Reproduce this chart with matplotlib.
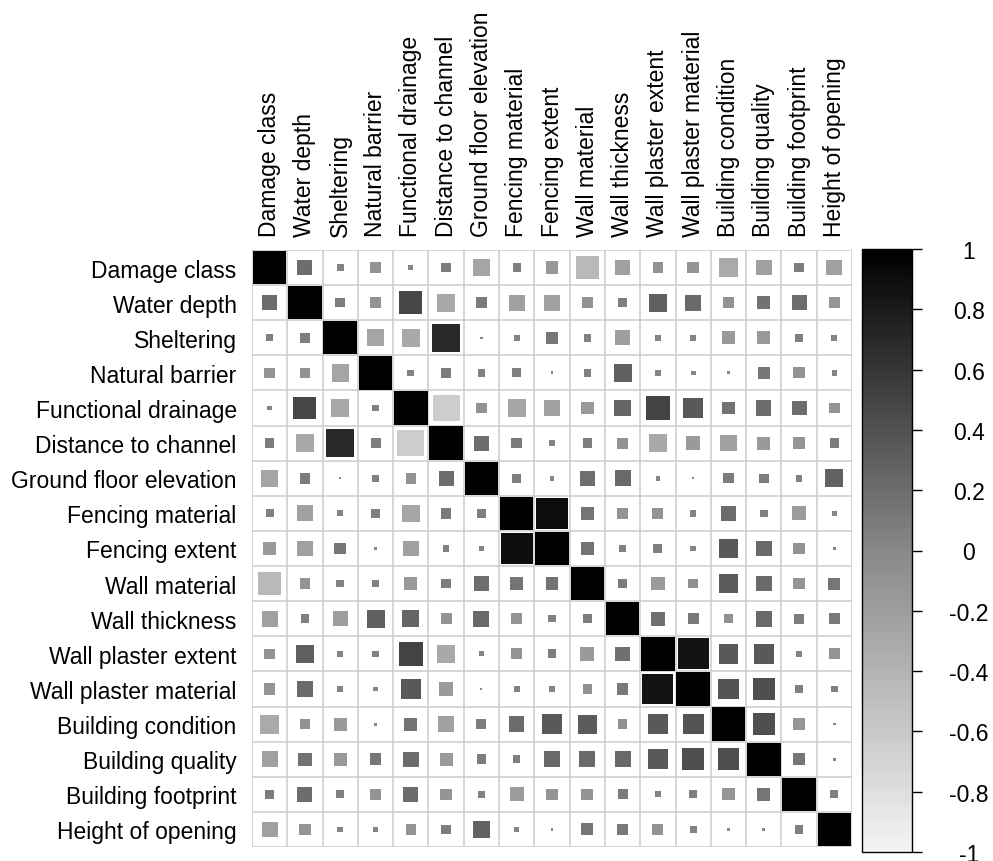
import numpy as np
import matplotlib
matplotlib.use("Agg")
import matplotlib.pyplot as plt
from matplotlib.colors import LinearSegmentedColormap, Normalize
from matplotlib.patches import Rectangle
from matplotlib.cm import ScalarMappable

plt.rcParams['font.family'] = ['Liberation Sans', 'DejaVu Sans']

labels = ["Damage class", "Water depth", "Sheltering", "Natural barrier",
          "Functional drainage", "Distance to channel", "Ground floor elevation",
          "Fencing material", "Fencing extent", "Wall material", "Wall thickness",
          "Wall plaster extent", "Wall plaster material", "Building condition",
          "Building quality", "Building footprint", "Height of opening"]

# upper triangle (values right of the diagonal), row by row
upper = [
    [0.2, 0.04, -0.1, 0.02, 0.08, -0.27, 0.06, -0.15, -0.45, -0.22, -0.1, -0.12, -0.32, -0.22, 0.08, -0.22],
    [0.08, -0.1, 0.47, -0.3, 0.1, -0.23, -0.22, -0.1, 0.07, 0.3, 0.22, -0.1, 0.16, 0.2, -0.12],
    [-0.27, -0.3, 0.7, 0.005, 0.03, 0.12, 0.05, -0.2, 0.03, 0.03, -0.15, -0.15, 0.06, 0.03],
    [0.04, 0.09, 0.05, 0.07, 0.008, 0.05, 0.29, 0.035, 0.02, 0.008, 0.12, -0.11, 0.025],
    [-0.64, -0.1, -0.28, -0.23, -0.15, 0.25, 0.5, 0.35, 0.15, 0.21, 0.2, -0.1],
    [0.2, 0.1, 0.04, 0.08, -0.11, -0.3, -0.17, -0.23, -0.15, -0.12, 0.08],
    [0.07, 0.02, 0.19, 0.23, 0.02, 0.004, 0.09, 0.08, 0.04, 0.28],
    [0.9, 0.14, -0.11, -0.11, 0.035, 0.21, 0.05, -0.18, 0.02],
    [0.15, 0.045, 0.07, 0.03, 0.35, 0.23, -0.11, 0.008],
    [0.08, -0.17, -0.08, 0.33, 0.22, -0.12, 0.13],
    [0.18, 0.11, -0.08, 0.23, 0.09, 0.11],
    [0.86, 0.35, 0.35, 0.03, -0.11],
    [0.38, 0.42, 0.06, 0.04],
    [0.42, -0.13, 0.005],
    [0.14, 0.008],
    [0.06],
]

n = len(labels)
corr = np.eye(n)
for i, row in enumerate(upper):
    for k, v in enumerate(row):
        corr[i, i + 1 + k] = v
        corr[i + 1 + k, i] = v

cmap = LinearSegmentedColormap.from_list("grey", ["#f4f4f4", "#888888", "#000000"])
norm = Normalize(-1, 1)

fig = plt.figure(figsize=(9.93, 8.62), dpi=100)
ax = fig.add_axes([252 / 993, 1 - 848 / 862, 600 / 993, 597 / 862])

for i in range(n):
    for j in range(n):
        r = corr[i, j]
        s = 0.95 * np.sqrt(abs(r))
        ax.add_patch(Rectangle((j - s / 2, i - s / 2), s, s,
                               facecolor=cmap(norm(r)), edgecolor='none', zorder=3))

for k in np.arange(-0.5, n, 1.0):
    ax.axhline(k, color='#cccccc', lw=1.1, zorder=1)
    ax.axvline(k, color='#cccccc', lw=1.1, zorder=1)

ax.set_xlim(-0.5, n - 0.5)
ax.set_ylim(n - 0.5, -0.5)
for sp in ax.spines.values():
    sp.set_visible(False)

ax.set_xticks(range(n))
ax.set_yticks(range(n))
ax.set_yticklabels(labels, fontsize=16.5)
ax.set_xticklabels(labels, fontsize=16.5, rotation=90)
ax.xaxis.tick_top()
ax.tick_params(axis='both', length=0)
ax.tick_params(axis='x', pad=10)
ax.tick_params(axis='y', pad=11)

cax = fig.add_axes([862 / 993, 1 - 853 / 862, 50 / 993, 603 / 862])
cb = fig.colorbar(ScalarMappable(norm=norm, cmap=cmap), cax=cax)
ticks = np.round(np.arange(-1, 1.01, 0.2), 1)
cb.set_ticks(ticks)
cb.set_ticklabels(["%g" % t if abs(t) > 1e-9 else "0" for t in ticks])
cb.outline.set_linewidth(1.0)
cax.tick_params(axis='y', length=7, width=1, direction='out', pad=34, labelsize=16.5)
for t in cax.get_yticklabels():
    t.set_horizontalalignment('center')

fig.savefig("out.png", dpi=100)
